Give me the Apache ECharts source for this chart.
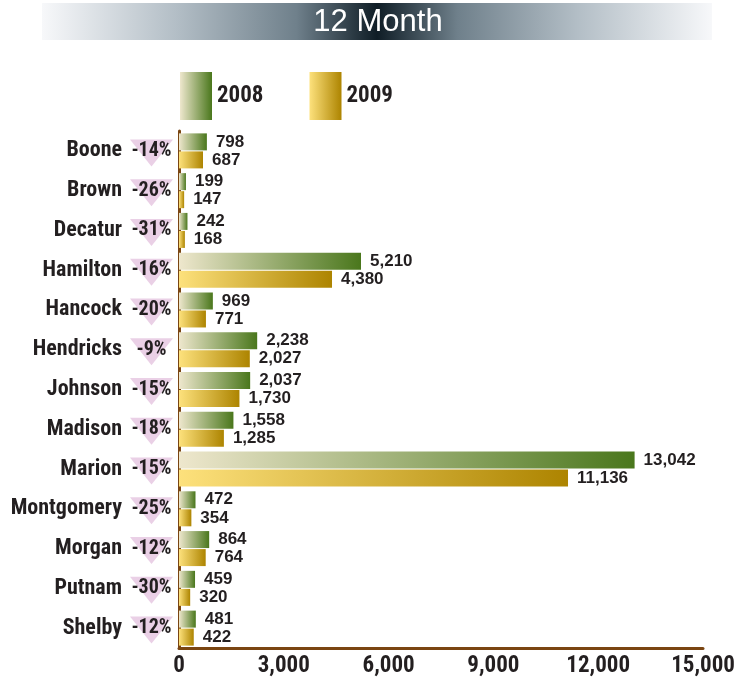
<!DOCTYPE html>
<html>
<head>
<meta charset="utf-8">
<script src="https://cdn.jsdelivr.net/npm/echarts@6/dist/echarts.min.js"></script>
<style>
html,body{margin:0;padding:0;background:#fff;}
#chart{width:735px;height:681px;}
</style>
</head>
<body>
<div id="chart"></div>
<script>
const categories = ['Boone','Brown','Decatur','Hamilton','Hancock','Hendricks','Johnson','Madison','Marion','Montgomery','Morgan','Putnam','Shelby'];
const values2008 = [798,199,242,5210,969,2238,2037,1558,13042,472,864,459,481];
const values2009 = [687,147,168,4380,771,2027,1730,1285,11136,354,764,320,422];
const pctChange = [-14,-26,-31,-16,-20,-9,-15,-18,-15,-25,-12,-30,-12];
const xTicks = [0,3000,6000,9000,12000,15000];
const titleText = '12 Month';

const NARROW = "'Roboto Condensed','Open Sans Condensed','DejaVu Sans Condensed',sans-serif";
const SANS = "'Liberation Sans',Arial,Helvetica,sans-serif";
const INK = '#231f20';
const BROWN = '#7a4512';

const grad = (a, b) => new echarts.graphic.LinearGradient(0, 0, 1, 0, [
  {offset: 0, color: a}, {offset: 1, color: b}
]);
const fmt = v => v.toLocaleString('en-US');

const chart = echarts.init(document.getElementById('chart'), null, {renderer: 'canvas'});
chart.setOption({
  animation: false,
  backgroundColor: '#fff',
  graphic: [{
    type: 'rect',
    shape: {x: 42, y: 3, width: 670, height: 37},
    style: {
      fill: new echarts.graphic.LinearGradient(0, 0, 1, 0, [
        {offset: 0, color: '#f7f8fa'},
        {offset: 0.2, color: '#b3bec6'},
        {offset: 0.38, color: '#6f808b'},
        {offset: 0.5, color: '#0f1d26'},
        {offset: 0.62, color: '#6f808b'},
        {offset: 0.8, color: '#b3bec6'},
        {offset: 1, color: '#f7f8fa'}
      ])
    },
    z: 0
  }, {
    type: 'text',
    x: 378,
    y: 22,
    style: {text: titleText, fill: '#fff', font: "31px " + SANS, align: 'center', verticalAlign: 'middle'},
    z: 1
  }],
  legend: {
    left: 180,
    top: 72,
    padding: 0,
    icon: 'rect',
    itemWidth: 32,
    itemHeight: 48,
    itemGap: 46,
    data: ['2008', '2009'],
    textStyle: {fontFamily: NARROW, fontWeight: 'bold', fontSize: 23, color: INK}
  },
  grid: [
    {left: 179, right: 32, top: 131, bottom: 33, containLabel: false, outerBoundsMode: 'none'},
    {left: 130, width: 43, top: 131, bottom: 33, containLabel: false, outerBoundsMode: 'none'}
  ],
  xAxis: [{
    gridIndex: 0,
    type: 'value',
    min: xTicks[0],
    max: xTicks[xTicks.length - 1],
    interval: 3000,
    axisLine: {show: true, lineStyle: {color: BROWN, width: 3}},
    axisTick: {show: false},
    splitLine: {show: false},
    axisLabel: {
      margin: 7,
      fontFamily: NARROW, fontWeight: 'bold', fontSize: 23, color: INK,
      formatter: v => fmt(v)
    }
  }, {
    gridIndex: 1, type: 'value', min: 0, max: 2, show: false
  }],
  yAxis: [{
    gridIndex: 0,
    type: 'category',
    inverse: true,
    data: categories,
    axisLine: {show: true, lineStyle: {color: BROWN, width: 3}},
    axisTick: {show: false},
    axisLabel: {margin: 57, fontFamily: NARROW, fontWeight: 'bold', fontSize: 22, color: INK}
  }, {
    gridIndex: 1, type: 'category', inverse: true, data: categories, show: false
  }],
  series: [{
    name: '2008',
    type: 'bar',
    xAxisIndex: 0, yAxisIndex: 0,
    data: values2008,
    barWidth: 17,
    barGap: '6%',
    itemStyle: {color: grad('#eee7cd', '#4a771c')},
    label: {
      show: true, position: 'right', distance: 9,
      fontFamily: SANS, fontWeight: 'bold', fontSize: 17, color: INK,
      formatter: p => fmt(p.value)
    }
  }, {
    name: '2009',
    type: 'bar',
    xAxisIndex: 0, yAxisIndex: 0,
    data: values2009,
    barWidth: 17,
    barGap: '6%',
    itemStyle: {color: grad('#fde17c', '#ad8400')},
    label: {
      show: true, position: 'right', distance: 9,
      fontFamily: SANS, fontWeight: 'bold', fontSize: 17, color: INK,
      formatter: p => fmt(p.value)
    }
  }, {
    name: 'change',
    type: 'scatter',
    xAxisIndex: 1, yAxisIndex: 1,
    symbol: 'triangle',
    symbolRotate: 180,
    symbolSize: [43, 27],
    symbolOffset: [0, 2],
    data: pctChange.map((v, i) => [1, categories[i], v]),
    itemStyle: {color: '#ead0e6', opacity: 1},
    label: {
      show: true, position: 'inside', offset: [0, -2],
      fontFamily: NARROW, fontWeight: 'bold', fontSize: 20, color: INK,
      formatter: p => p.value[2] + '%'
    },
    silent: true
  }]
});
</script>
</body>
</html>
